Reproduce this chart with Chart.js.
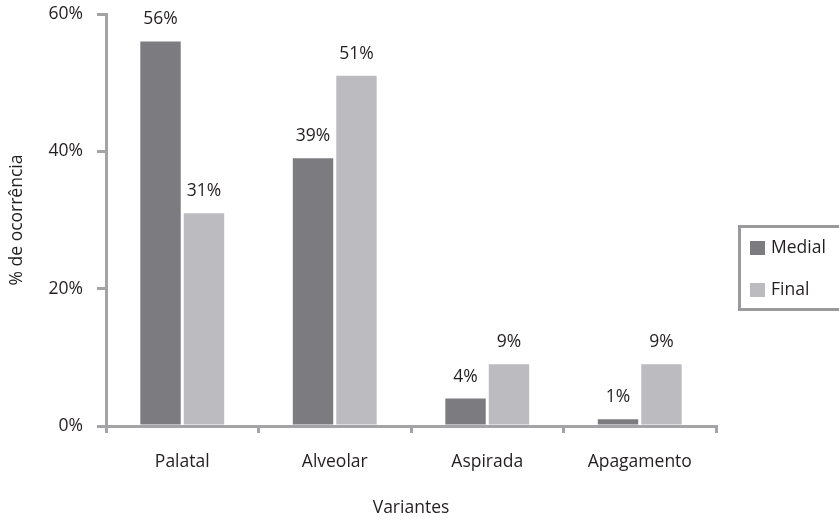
<!DOCTYPE html>
<html>
<head>
<meta charset="utf-8">
<script src="https://cdn.jsdelivr.net/npm/chart.js@4/dist/chart.umd.min.js"></script>
<style>
  html, body { margin: 0; padding: 0; background: #fff; }
  #wrap { width: 839px; height: 520px; }
</style>
</head>
<body>
<div id="wrap"><canvas id="variantesChart" width="839" height="520"></canvas></div>
<script>
// Ocorrência das variantes por posição
const categories = ["Palatal", "Alveolar", "Aspirada", "Apagamento"];
const medialValues = [56, 39, 4, 1];
const finalValues = [31, 51, 9, 9];
const yTicks = [0, 20, 40, 60];

const FONT = "'Open Sans'";
const SIZE = 17.5;
const TEXT = "#231f20";
const AXIS = "#a4a4a6";

// Rótulos de valor acima das barras
const valueLabels = {
    id: "valueLabels",
    afterDatasetsDraw(chart) {
        const ctx = chart.ctx;
        ctx.save();
        ctx.font = SIZE + "px " + FONT;
        ctx.fillStyle = TEXT;
        ctx.textAlign = "center";
        ctx.textBaseline = "alphabetic";
        chart.data.datasets.forEach((ds, i) => {
            chart.getDatasetMeta(i).data.forEach((bar, j) => {
                ctx.fillText(ds.data[j] + "%", bar.x, bar.y - 17);
            });
        });
        ctx.restore();
    }
};

// Legenda com moldura à direita
const boxLegend = {
    id: "boxLegend",
    afterDraw(chart) {
        const ctx = chart.ctx;
        ctx.save();
        ctx.strokeStyle = "#9a9a9c";
        ctx.lineWidth = 3;
        ctx.strokeRect(739.5, 226.5, 110, 83);
        ctx.font = SIZE + "px " + FONT;
        ctx.textBaseline = "middle";
        ctx.textAlign = "left";
        chart.data.datasets.forEach((ds, i) => {
            const y = 248 + i * 42;
            ctx.fillStyle = ds.backgroundColor;
            ctx.fillRect(750, y - 7, 15, 14);
            ctx.fillStyle = TEXT;
            ctx.fillText(ds.label, 771, y);
        });
        ctx.restore();
    }
};

new Chart(document.getElementById("variantesChart"), {
    type: "bar",
    data: {
        labels: categories,
        datasets: [
            { label: "Medial", data: medialValues, backgroundColor: "#7c7c80" },
            { label: "Final", data: finalValues, backgroundColor: "#bcbcc0" }
        ]
    },
    options: {
        responsive: false,
        animation: false,
        devicePixelRatio: 1,
        layout: { padding: { top: 14, right: 123, left: 0, bottom: 0 } },
        categoryPercentage: 0.57,
        barPercentage: 0.93,
        plugins: {
            legend: { display: false },
            tooltip: { enabled: false }
        },
        scales: {
            x: {
                afterFit: (scale) => { scale.height = 94; },
                grid: { drawOnChartArea: false, color: AXIS, lineWidth: 3, tickLength: 7 },
                border: { color: AXIS, width: 3 },
                ticks: { color: TEXT, font: { family: FONT, size: SIZE }, padding: 19 },
                title: {
                    display: true, text: "Variantes", color: TEXT,
                    font: { family: FONT, size: SIZE }, padding: { bottom: 1 }
                }
            },
            y: {
                min: 0,
                max: 60,
                // largura fixa e sem folga extra no topo
                afterFit: (scale) => {
                    scale.width = 106;
                    scale.paddingTop = 0;
                },
                afterBuildTicks: (scale) => { scale.ticks = yTicks.map(v => ({ value: v })); },
                grid: { drawOnChartArea: false, color: AXIS, lineWidth: 3, tickLength: 9 },
                border: { color: AXIS, width: 3 },
                ticks: {
                    color: TEXT, font: { family: FONT, size: SIZE }, padding: 14,
                    callback: (v) => v + "%"
                },
                title: {
                    display: true, text: "% de ocorrência", color: TEXT,
                    font: { family: FONT, size: SIZE }, padding: { top: 7 }
                }
            }
        }
    },
    plugins: [valueLabels, boxLegend]
});
</script>
</body>
</html>
